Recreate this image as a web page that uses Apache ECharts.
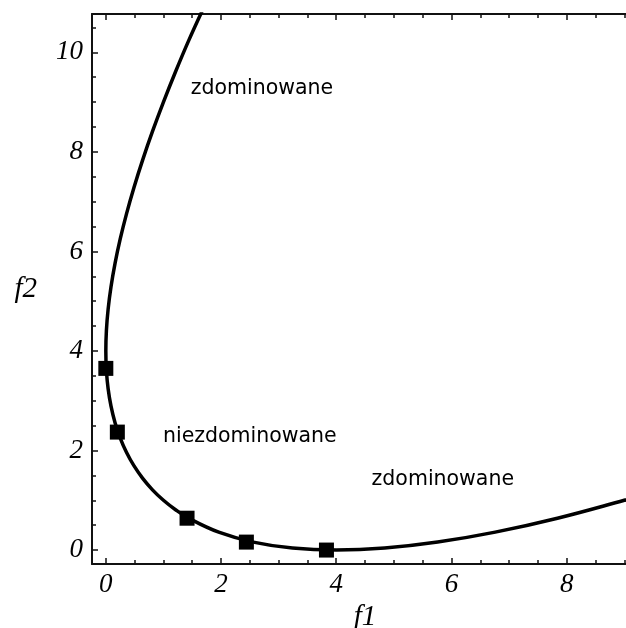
<!DOCTYPE html>
<html>
<head>
<meta charset="utf-8">
<script src="https://cdn.jsdelivr.net/npm/echarts@6/dist/echarts.min.js"></script>
<style>
html, body { margin: 0; padding: 0; background: #fff; }
#main { width: 626px; height: 628px; }
</style>
</head>
<body>
<div id="main"></div>
<script>
// curve (upper branch down to f1=0, then the lower branch to the right)
const curveF1 = [1.72, 1.44, 1.21, 1.0, 0.81, 0.64, 0.49, 0.36, 0.25, 0.16, 0.09, 0.04, 0.01, 0.0,
  0.01, 0.04, 0.09, 0.16, 0.25, 0.36, 0.49, 0.64, 0.81, 1.0, 1.21, 1.44, 1.96, 2.56, 3.24, 4.0,
  4.84, 5.76, 6.76, 7.84, 9.0, 9.3];
const curveF2 = [10.95, 10.24, 9.61, 9.0, 8.41, 7.84, 7.29, 6.76, 6.25, 5.76, 5.29, 4.84, 4.41, 4.0,
  3.61, 3.24, 2.89, 2.56, 2.25, 1.96, 1.69, 1.44, 1.21, 1.0, 0.81, 0.64, 0.36, 0.16, 0.04, 0.0,
  0.04, 0.16, 0.36, 0.64, 1.0, 1.1];

// square markers
const pointF1 = [0.0, 0.2, 1.41, 2.44, 3.83];
const pointF2 = [3.65, 2.37, 0.64, 0.16, 0.0];

// ticks
const xMajor = [0, 2, 4, 6, 8];
const xMinor = [0.5, 1, 1.5, 2.5, 3, 3.5, 4.5, 5, 5.5, 6.5, 7, 7.5, 8.5, 9];
const yMajor = [0, 2, 4, 6, 8, 10];
const yMinor = [0.5, 1, 1.5, 2.5, 3, 3.5, 4.5, 5, 5.5, 6.5, 7, 7.5, 8.5, 9, 9.5, 10.5];

// region labels
const regionNames = ['zdominowane', 'niezdominowane', 'zdominowane'];
const regionF1 = [2.71, 2.5, 5.85];
const regionF2 = [9.27, 2.27, 1.41];

const X_MIN = -0.24, X_MAX = 9.03;
const Y_MIN = -0.28, Y_MAX = 10.77;
const ink = '#000';
const serif = { fontFamily: 'Liberation Serif', fontStyle: 'italic', fontSize: 27, color: ink };

function axis(pos, min, max, ticks, len, showLine, showLabels) {
  return {
    type: 'value',
    position: pos,
    min: min,
    max: max,
    axisLine: { show: showLine, onZero: false, lineStyle: { color: '#111', width: 2 } },
    axisTick: { show: true, inside: true, length: len, customValues: ticks,
      lineStyle: { color: '#111', width: 1.5 } },
    axisLabel: showLabels
      ? Object.assign({ show: true, customValues: ticks, margin: 7 }, serif)
      : { show: false },
    splitLine: { show: false }
  };
}

const xBottom = axis('bottom', X_MIN, X_MAX, xMajor, 6, true, true);
xBottom.name = 'f1';
xBottom.nameLocation = 'middle';
xBottom.nameGap = 36;
xBottom.nameTextStyle = Object.assign({}, serif, { fontSize: 29, padding: [0, 0, 0, 12] });

const yLeft = axis('left', Y_MIN, Y_MAX, yMajor, 6, true, true);
yLeft.axisLabel.margin = 9;
yLeft.name = 'f2';
yLeft.nameLocation = 'middle';
yLeft.nameRotate = 0;
yLeft.nameGap = 55;
yLeft.nameTextStyle = Object.assign({}, serif, { fontSize: 29, padding: [2, 0, 0, 0] });

const chart = echarts.init(document.getElementById('main'));
chart.setOption({
  animation: false,
  backgroundColor: '#fff',
  grid: { left: 92, right: 0, top: 14, bottom: 64, containLabel: false, outerBoundsMode: 'none' },
  xAxis: [
    xBottom,
    axis('bottom', X_MIN, X_MAX, xMinor, 4, false, false),
    axis('top', X_MIN, X_MAX, xMajor, 6, true, false),
    axis('top', X_MIN, X_MAX, xMinor, 4, false, false)
  ],
  yAxis: [
    yLeft,
    axis('left', Y_MIN, Y_MAX, yMinor, 4, false, false)
  ],
  series: [
    {
      type: 'line',
      data: curveF1.map((v, i) => [v, curveF2[i]]),
      smooth: 0.4,
      showSymbol: false,
      lineStyle: { color: ink, width: 3.5 },
      z: 2
    },
    {
      type: 'scatter',
      data: pointF1.map((v, i) => [v, pointF2[i]]),
      symbol: 'rect',
      symbolSize: 15,
      itemStyle: { color: ink, opacity: 1 },
      z: 3
    },
    {
      type: 'scatter',
      data: regionF1.map((v, i) => ({ value: [v, regionF2[i]], name: regionNames[i] })),
      symbolSize: 1,
      itemStyle: { color: 'rgba(0,0,0,0)', opacity: 1 },
      label: {
        show: true,
        position: 'inside',
        formatter: p => p.name,
        fontFamily: 'DejaVu Sans',
        fontSize: 20.5,
        color: ink,
        opacity: 1
      },
      z: 4
    }
  ]
});
</script>
</body>
</html>
